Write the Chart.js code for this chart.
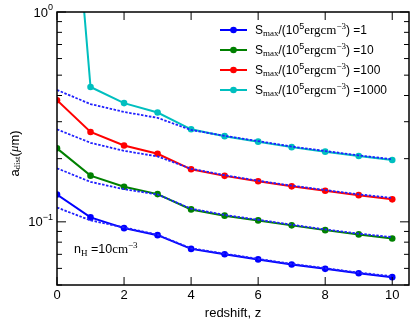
<!DOCTYPE html>
<html>
<head>
<meta charset="utf-8">
<script src="https://cdn.jsdelivr.net/npm/chart.js@4"></script>
<style>
  html, body { margin: 0; padding: 0; background: #fff; }
</style>
</head>
<body>
<canvas id="dust" width="416" height="326"></canvas>
<script>
// redshift z on the x axis
const redshift = [0, 1, 2, 3, 4, 5, 6, 7, 8, 9, 10];

// S_max / (10^5 erg cm^-3) for each run
const smaxValues = [1, 10, 100, 1000];

// a_dist (um), one list per S_max (solid lines with markers)
const adist1 = [0.135, 0.105, 0.0933, 0.0864, 0.0743, 0.0701, 0.0662, 0.0626, 0.0597, 0.0569, 0.0545];
const adist10 = [0.224, 0.166, 0.147, 0.1356, 0.1146, 0.107, 0.1016, 0.0962, 0.0913, 0.0871, 0.0833];
const adist100 = [0.38, 0.268, 0.231, 0.211, 0.178, 0.1656, 0.156, 0.1476, 0.1406, 0.134, 0.128];
const adist1000 = [35, 0.439, 0.368, 0.332, 0.276, 0.256, 0.241, 0.227, 0.216, 0.206, 0.197];

// blue dotted curves (approximations)
const approx1 = [0.117, 0.1016, 0.094, 0.0868, 0.0748, 0.0705, 0.0666, 0.063, 0.0601, 0.0573, 0.055];
const approx10 = [0.18, 0.155, 0.143, 0.135, 0.1155, 0.1078, 0.1023, 0.0969, 0.092, 0.0879, 0.0845];
const approx100 = [0.276, 0.238, 0.218, 0.205, 0.179, 0.1668, 0.157, 0.1487, 0.1418, 0.1352, 0.13];
const approx1000 = [0.425, 0.364, 0.334, 0.313, 0.274, 0.257, 0.2425, 0.2285, 0.2175, 0.2075, 0.1985];

// ticks
const xTicks = [0, 2, 4, 6, 8, 10];
const yMajor = [0.1, 1];
const yExp = ["\u22121", "0"];
const yMinor = [0.05, 0.06, 0.07, 0.08, 0.09, 0.2, 0.3, 0.4, 0.5, 0.6, 0.7, 0.8, 0.9];

const colors = ["#0000ff", "#008000", "#ff0000", "#00bfbf"];
const SANS = '"Liberation Sans", Arial, Helvetica, sans-serif';
const SERIF = '"Liberation Serif", "DejaVu Serif", serif';

const pts = (ys) => redshift.map((z, i) => ({ x: z, y: ys[i] }));

const solid = [adist1, adist10, adist100, adist1000].map((ys, i) => ({
  label: "S_max/(10^5 erg cm^-3) =" + smaxValues[i],
  data: pts(ys),
  borderColor: colors[i],
  backgroundColor: colors[i],
  borderWidth: 2,
  pointRadius: 3.3,
  pointBorderWidth: 0,
  order: 1,
  legend: true,
}));

const dotted = [approx1, approx10, approx100, approx1000].map((ys) => ({
  label: "approx",
  data: pts(ys),
  borderColor: "#2020ff",
  borderWidth: 1.8,
  borderDash: [2.5, 1.5],
  pointRadius: 0,
  order: 0,
  legend: false,
}));

function richWidth(ctx, segs) {
  let w = 0;
  segs.forEach((s) => { ctx.font = s.f; w += ctx.measureText(s.t).width; });
  return w;
}
function drawRich(ctx, segs, x, y) {
  segs.forEach((s) => {
    ctx.font = s.f;
    ctx.fillText(s.t, x, y + (s.dy || 0));
    x += ctx.measureText(s.t).width;
  });
  return x;
}
function legendSegs(v) {
  return [
    { t: "S", f: `12px ${SANS}` },
    { t: "max", f: `9px ${SERIF}`, dy: 2.5 },
    { t: "/(10", f: `12px ${SANS}` },
    { t: "5", f: `9px ${SANS}`, dy: -4.5 },
    { t: "ergcm", f: `13px ${SERIF}` },
    { t: "\u22123", f: `9px ${SERIF}`, dy: -4.5 },
    { t: ") =" + v, f: `12px ${SANS}` },
  ];
}

// frame, inward ticks, y labels, legend and note
const decor = {
  id: "decor",
  afterDraw(chart) {
    const { ctx, chartArea: a, scales } = chart;
    const x = scales.x, y = scales.y;
    ctx.save();
    ctx.strokeStyle = "#000";
    ctx.lineWidth = 1.5;
    ctx.strokeRect(a.left, a.top, a.right - a.left, a.bottom - a.top);

    ctx.lineWidth = 1;
    ctx.beginPath();
    xTicks.forEach((v) => {
      const px = x.getPixelForValue(v);
      ctx.moveTo(px, a.bottom); ctx.lineTo(px, a.bottom - 8);
      ctx.moveTo(px, a.top); ctx.lineTo(px, a.top + 8);
    });
    yMajor.forEach((v) => {
      const py = y.getPixelForValue(v);
      ctx.moveTo(a.left, py); ctx.lineTo(a.left + 9, py);
      ctx.moveTo(a.right, py); ctx.lineTo(a.right - 9, py);
    });
    yMinor.forEach((v) => {
      const py = y.getPixelForValue(v);
      ctx.moveTo(a.left, py); ctx.lineTo(a.left + 5, py);
      ctx.moveTo(a.right, py); ctx.lineTo(a.right - 5, py);
    });
    ctx.stroke();

    ctx.fillStyle = "#000";
    ctx.textBaseline = "middle";
    ctx.textAlign = "left";
    yMajor.forEach((v, i) => {
      const segs = [
        { t: "10", f: `13px ${SANS}` },
        { t: yExp[i], f: `9px ${SANS}`, dy: -5 },
      ];
      const w = richWidth(ctx, segs);
      drawRich(ctx, segs, a.left - 4 - w, y.getPixelForValue(v) + 1);
    });

    // y title
    const ySegs = [
      { t: "a", f: `13px ${SANS}` },
      { t: "dist", f: `9px ${SERIF}`, dy: 3 },
      { t: "(", f: `13px ${SANS}` },
      { t: "\u03bc", f: `italic 13px ${SERIF}` },
      { t: "m)", f: `13px ${SANS}` },
    ];
    ctx.save();
    ctx.translate(15, (a.top + a.bottom) / 2 + 5);
    ctx.rotate(-Math.PI / 2);
    drawRich(ctx, ySegs, -richWidth(ctx, ySegs) / 2, 0);
    ctx.restore();

    // legend
    let row = 0;
    chart.data.datasets.forEach((ds) => {
      if (!ds.legend) return;
      const ly = a.top + 18 + row * 20;
      const lx = a.right - 189;
      ctx.strokeStyle = ds.borderColor;
      ctx.fillStyle = ds.borderColor;
      ctx.lineWidth = 2;
      ctx.beginPath();
      ctx.moveTo(lx, ly); ctx.lineTo(lx + 27, ly);
      ctx.stroke();
      ctx.beginPath();
      ctx.arc(lx + 13.5, ly, 3.3, 0, Math.PI * 2);
      ctx.fill();
      ctx.fillStyle = "#000";
      drawRich(ctx, legendSegs(smaxValues[row]), lx + 35, ly + 1);
      row++;
    });

    // density note
    ctx.textBaseline = "alphabetic";
    drawRich(ctx, [
      { t: "n", f: `12.5px ${SANS}` },
      { t: "H", f: `9px ${SERIF}`, dy: 2.5 },
      { t: " =10", f: `12.5px ${SANS}` },
      { t: "cm", f: `13px ${SERIF}` },
      { t: "\u22123", f: `9px ${SERIF}`, dy: -5 },
    ], a.left + 17, 253);
    ctx.restore();
  },
};

new Chart(document.getElementById("dust"), {
  type: "line",
  data: { datasets: [...solid, ...dotted] },
  options: {
    responsive: false,
    devicePixelRatio: 1,
    animation: false,
    layout: { padding: { left: 0, right: 7, top: 12, bottom: 0 } },
    plugins: { legend: { display: false }, tooltip: { enabled: false } },
    scales: {
      x: {
        type: "linear",
        min: 0,
        max: 10.5,
        afterBuildTicks: (s) => { s.ticks = xTicks.map((v) => ({ value: v })); },
        afterFit: (s) => { s.height = 41; },
        grid: { display: false, drawTicks: false },
        border: { display: false },
        ticks: { color: "#000", padding: 3, font: { family: SANS, size: 13 } },
        title: {
          display: true,
          text: "redshift, z",
          color: "#000",
          font: { family: SANS, size: 13 },
          padding: { top: 2, bottom: 5 },
        },
      },
      y: {
        type: "logarithmic",
        min: 0.05,
        max: 1,
        afterBuildTicks: (s) => { s.ticks = yMajor.map((v) => ({ value: v })); },
        afterFit: (s) => { s.width = 57; },
        grid: { display: false, drawTicks: false },
        border: { display: false },
        ticks: { display: false },
      },
    },
  },
  plugins: [decor],
});
</script>
</body>
</html>
